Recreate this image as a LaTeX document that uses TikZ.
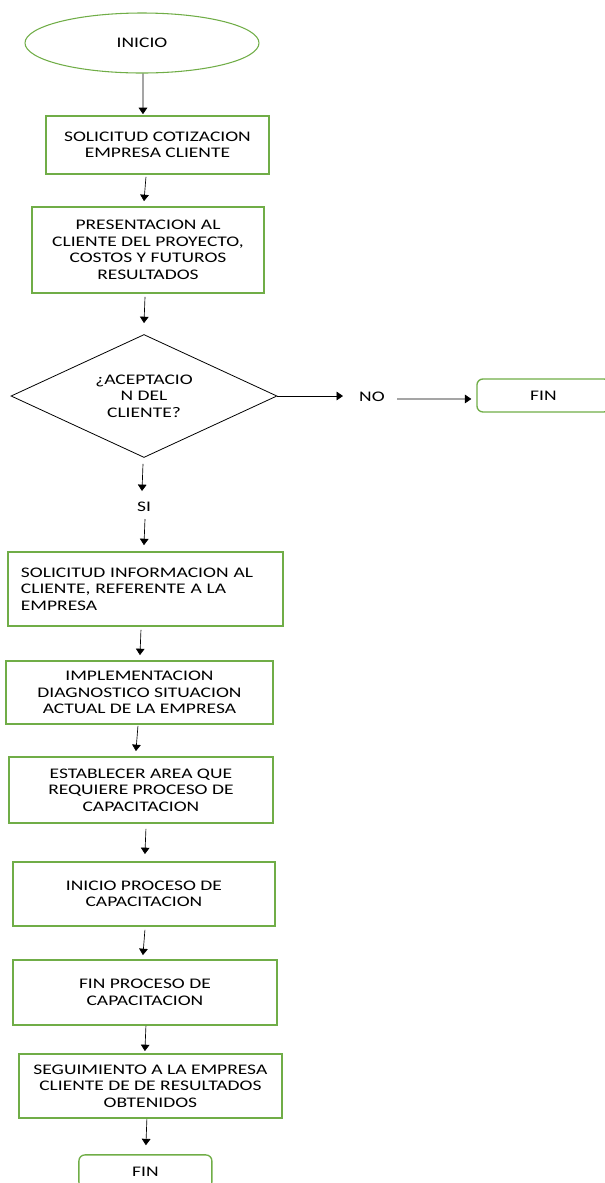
\documentclass[tikz,border=0pt]{standalone}
\usepackage{fontspec}
\setmainfont{Carlito}[FakeStretch=1.33]
\usetikzlibrary{positioning, shapes.geometric, calc, arrows.meta}
\definecolor{boxgreen}{RGB}{112,173,71}
\tikzstyle{ellip} = [ellipse, minimum width=175.5pt, minimum height=45pt, text centered, draw=boxgreen, line width=0.8pt]
\tikzstyle{finbox} = [rectangle, rounded corners=4.5pt, minimum width=99.75pt, minimum height=24.75pt, text centered, draw=boxgreen, line width=1pt]
\tikzstyle{process} = [rectangle, inner sep=0pt, text centered, draw=boxgreen, line width=1.3pt]
\tikzstyle{decision} = [diamond, aspect=2.2, inner sep=0pt, minimum width=199.5pt, minimum height=92.25pt, text centered, draw=black, line width=0.6pt]
\tikzstyle{arrow} = [->, >={Triangle[length=4.8pt, width=6.5pt]}, line width=0.5pt]

\begin{document}
\begin{tikzpicture}[x=0.75pt, y=-0.75pt, node distance=75pt, align=center, font=\fontsize{11}{12.4}\selectfont]
  \path [use as bounding box, clip] (0,0) rectangle (605,1183);
  % formas del diagrama
  \node (inicio) [ellip] at (142,43) {INICIO};
  \node (sol1) [process, minimum width=167.25pt, minimum height=43.5pt, below of=inicio, xshift=11.6pt, yshift=-1.5pt] {SOLICITUD COTIZACION\\EMPRESA CLIENTE};
  \node (pres) [process, minimum width=174pt, minimum height=64.5pt, below of=sol1, xshift=-7.1pt, yshift=-3.75pt] {PRESENTACION AL\\CLIENTE DEL PROYECTO,\\COSTOS Y FUTUROS\\RESULTADOS};
  \node (dec) [decision, below of=pres, xshift=-3pt, yshift=-34.5pt] {¿ACEPTACIO\\N DEL\\CLIENTE?};
  \node (no) [inner sep=0pt, right of=dec, xshift=96pt, yshift=-0.75pt] {NO};
  \node (finno) [finbox, right of=dec, xshift=224.6pt, yshift=0.4pt] {FIN};
  \node (si) [inner sep=0pt, below of=dec, yshift=-8.25pt] {SI};
  \node (sol2) [process, minimum height=55.5pt, inner xsep=9.75pt, text width=186.75pt, align=left, below of=dec, xshift=1.1pt, yshift=-69.75pt] {SOLICITUD INFORMACION AL\\CLIENTE, REFERENTE A LA\\EMPRESA};
  \node (impl) [process, minimum width=200.25pt, minimum height=47.25pt, below of=sol2, xshift=-4.5pt, yshift=-2.6pt] {IMPLEMENTACION\\DIAGNOSTICO SITUACION\\ACTUAL DE LA EMPRESA};
  \node (estab) [process, minimum width=198pt, minimum height=49.5pt, below of=impl, xshift=1.1pt, yshift=1.9pt] {ESTABLECER AREA QUE\\REQUIERE PROCESO DE\\CAPACITACION};
  \node (inicap) [process, minimum width=196.5pt, minimum height=48pt, below of=estab, xshift=2.25pt, yshift=-3pt] {INICIO PROCESO DE\\CAPACITACION};
  \node (fincap) [process, minimum width=198pt, minimum height=48.75pt, below of=inicap, xshift=0.75pt, yshift=1.1pt] {FIN PROCESO DE\\CAPACITACION};
  \node (seg) [process, minimum width=197.25pt, minimum height=48pt, below of=fincap, xshift=4.1pt, yshift=4.9pt] {SEGUIMIENTO A LA EMPRESA\\CLIENTE DE DE RESULTADOS\\OBTENIDOS};
  \node (fin) [finbox, below of=seg, xshift=-3.75pt, yshift=10.9pt] {FIN};

  % conectores
  \draw [arrow] ($(inicio.south)+(1,0)$) -- ($(sol1.north)+(-14.5,-1)$);
  \draw [arrow] ($(sol1.south)+(-11.5,2)$) -- ($(pres.north)+(-4,-5)$);
  \draw [arrow] ($(pres.south)+(-3,3)$) -- ($(dec.north)+(0,-11)$);
  \draw [arrow] (dec.east) -- ($(no.west)+(-16,-1)$);
  \draw [arrow] ($(no.east)+(12,2)$) -- ($(finno.west)+(-5,3.5)$);
  \draw [arrow] ($(dec.south)+(-1,6)$) -- ($(si)+(-2,-16)$);
  \draw [arrow] ($(si)+(1,12)$) -- ($(sol2.north)+(-1.5,-6)$);
  \draw [arrow] ($(sol2.south)+(-4.5,3)$) -- ($(impl.north)+(0.5,-5)$);
  \draw [arrow] ($(impl.south)+(-1.5,1)$) -- ($(estab.north)+(-5,-5)$);
  \draw [arrow] ($(estab.south)+(5,5)$) -- ($(inicap.north)+(1,-7)$);
  \draw [arrow] ($(inicap.south)+(1,3)$) -- ($(fincap.north)+(-2,-4)$);
  \draw [arrow] ($(fincap.south)+(1,0)$) -- ($(seg.north)+(-5.5,-2)$);
  \draw [arrow] ($(seg.south)+(-3.5,0)$) -- ($(fin.north)+(0.5,-9)$);
\end{tikzpicture}
\end{document}
